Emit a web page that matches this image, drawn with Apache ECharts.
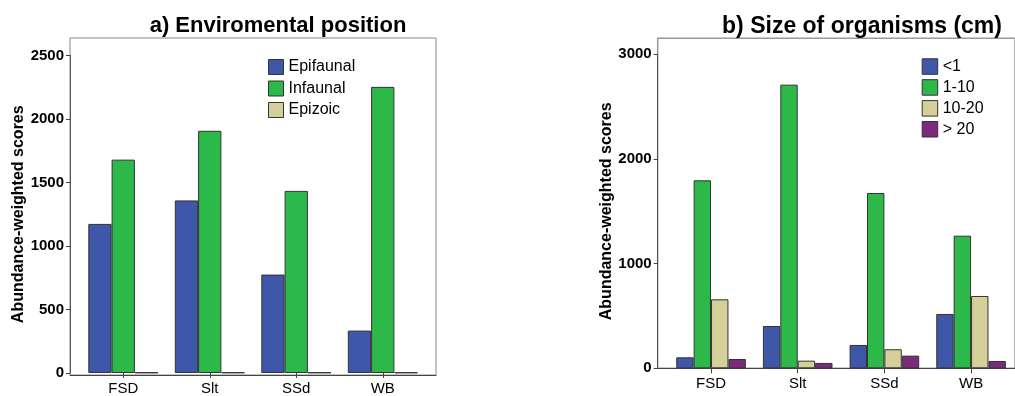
<!DOCTYPE html>
<html>
<head>
<meta charset="utf-8">
<script src="https://cdn.jsdelivr.net/npm/echarts@6/dist/echarts.min.js"></script>
<style>
html,body{margin:0;padding:0;background:#fff;}
#chart{width:1015px;height:396px;}
</style>
</head>
<body>
<div id="chart"></div>
<script>
// ---- Data ----
var categories = ['FSD', 'Slt', 'SSd', 'WB'];

// a) Environmental position
var titleA = 'a) Enviromental position';
var epifaunal = [1174, 1359, 775, 334];
var infaunal  = [1680, 1907, 1434, 2253];
var epizoic   = [4, 4, 4, 4];
var yTicksA = [0, 500, 1000, 1500, 2000, 2500];

// b) Size of organisms (cm)
var titleB = 'b) Size of organisms (cm)';
var sizeLt1   = [105, 404, 223, 519];
var size1to10 = [1796, 2710, 1675, 1267];
var size10to20 = [659, 73, 182, 691];
var sizeGt20  = [89, 51, 121, 70];
var yTicksB = [0, 1000, 2000, 3000];

var yName = 'Abundance-weighted scores';

// ---- Styles ----
var FONT = 'Liberation Sans, Arial, sans-serif';
var C_BLUE = '#3f57a8', C_GREEN = '#2db84a', C_TAN = '#d5d09a', C_PURPLE = '#7b2a7e';
var BORDER = '#333333';

function frameX(gi){ return {gridIndex:gi, type:'value', min:0, max:1, axisLine:{show:true, lineStyle:{color:'#444', width:1}}, axisTick:{show:false}, axisLabel:{show:false}, splitLine:{show:false}}; }
function frameY(gi){ return {gridIndex:gi, type:'value', min:0, max:1, show:false}; }

function dataX(gi){
  return {gridIndex:gi, type:'category', data:categories, boundaryGap:true,
    axisLine:{show:false},
    axisTick:{show:true, alignWithLabel:true, length:5, lineStyle:{color:'#444'}},
    axisLabel:{color:'#000', fontFamily:FONT, fontSize:15, margin:8},
    splitLine:{show:false}};
}
function dataY(gi, ticks){
  return {gridIndex:gi, type:'value', min:ticks[0], max:ticks[ticks.length-1], interval:ticks[1]-ticks[0],
    offset:10,
    name:yName, nameLocation:'middle', nameGap:35, nameRotate:90,
    nameTextStyle:{color:'#000', fontFamily:FONT, fontSize:16, fontWeight:'bold'},
    axisLine:{show:true, lineStyle:{color:'#555', width:1}},
    axisTick:{show:true, length:4, lineStyle:{color:'#444'}},
    axisLabel:{color:'#000', fontFamily:FONT, fontSize:15, fontWeight:'bold', margin:6,
      formatter:function(v){ return String(v); }},
    splitLine:{show:false}};
}
function bar(name, data, color, xi, yi, w){
  return {name:name, type:'bar', data:data, xAxisIndex:xi, yAxisIndex:yi,
    barWidth:w, barGap:'0%',
    itemStyle:{color:color, borderColor:BORDER, borderWidth:1},
    emphasis:{disabled:true}, animation:false};
}

var chart = echarts.init(document.getElementById('chart'), null, {renderer:'canvas'});
chart.setOption({
  animation:false,
  backgroundColor:'#fff',
  title:[
    {text:titleA, left:273, top:10, textAlign:'center', textStyle:{fontFamily:FONT, fontSize:22, fontWeight:'bold', color:'#000'}},
    {text:titleB, left:857, top:10, textAlign:'center', textStyle:{fontFamily:FONT, fontSize:23, fontWeight:'bold', color:'#000'}}
  ],
  legend:[
    {data:['Epifaunal','Infaunal','Epizoic'], orient:'vertical', left:263, top:54,
     itemWidth:15, itemHeight:15, itemGap:5.5, icon:'rect',
     itemStyle:{borderWidth:1, borderColor:BORDER},
     textStyle:{fontFamily:FONT, fontSize:16, color:'#000'}},
    {data:['<1','1-10','10-20','> 20'], orient:'vertical', left:916.7, top:53.3,
     itemWidth:15.5, itemHeight:15.5, itemGap:4.4, icon:'rect',
     itemStyle:{borderWidth:1, borderColor:BORDER},
     textStyle:{fontFamily:FONT, fontSize:16, color:'#000'}}
  ],
  grid:[
    {left:70, top:38, width:366, height:337, show:true, borderColor:'#888', borderWidth:1, backgroundColor:'transparent'},
    {left:80, top:55.5, width:346, height:319.5},
    {left:657.7, top:38.3, width:420, height:330, show:true, borderColor:'#999', borderWidth:1.5, backgroundColor:'transparent'},
    {left:667.7, top:54.3, width:346.7, height:314}
  ],
  xAxis:[frameX(0), dataX(1), frameX(2), dataX(3)],
  yAxis:[frameY(0), dataY(1, yTicksA), frameY(2), dataY(3, yTicksB)],
  series:[
    bar('Epifaunal', epifaunal, C_BLUE, 1, 1, 23.3),
    bar('Infaunal', infaunal, C_GREEN, 1, 1, 23.3),
    bar('Epizoic', epizoic, C_TAN, 1, 1, 23.3),
    bar('<1', sizeLt1, C_BLUE, 3, 3, 17.4),
    bar('1-10', size1to10, C_GREEN, 3, 3, 17.4),
    bar('10-20', size10to20, C_TAN, 3, 3, 17.4),
    bar('> 20', sizeGt20, C_PURPLE, 3, 3, 17.4)
  ]
});
</script>
</body>
</html>
